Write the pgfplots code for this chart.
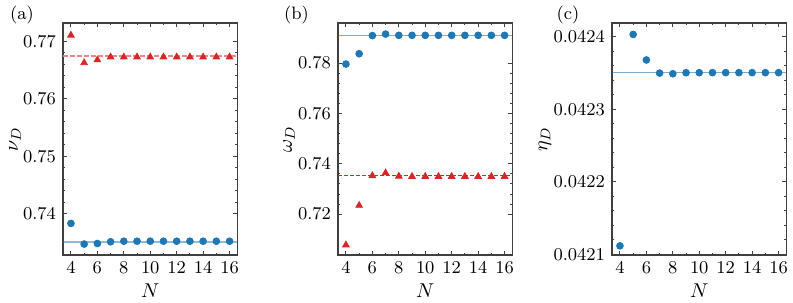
\documentclass[border=0pt]{standalone}
\usepackage{pgfplots}
\pgfplotsset{compat=1.18}
\definecolor{tblue}{RGB}{31,119,180}
\definecolor{tred}{RGB}{214,39,40}
\pgfplotsset{
  panel/.style={
    scale only axis, width=87.25pt, height=116pt,
    xmin=3.4, xmax=16.6, xtick={4,6,...,16}, minor x tick num=1, minor y tick num=4,
    tick align=inside, major tick length=2.2pt, minor tick length=1.2pt,
    axis line style={black!75, line width=0.6pt},
    every tick/.append style={black!75, line width=0.5pt},
    tick label style={font=\small}, label style={font=\normalsize},
    xlabel={$N$}, scaled y ticks=false,
    xlabel style={yshift=2pt},
    anchor=south west,
  },
  ylab/.style={every axis y label/.style={at={(axis description cs:#1,0.5)}, rotate=90, anchor=center}},
  bdot/.style={only marks, mark=*, mark size=1.7pt, color=tblue},
  rtri/.style={only marks, mark=triangle*, mark size=1.9pt, color=tred, mark options={yshift=-0.66pt}},
  bline/.style={no marks, tblue, opacity=0.6, line width=0.6pt},
  rline/.style={no marks, tred, line width=0.5pt, dash pattern=on 2pt off 1pt},
}
\begin{document}
\begin{tikzpicture}
\useasboundingbox (0,0) rectangle (396.5pt,151.5pt);
% (a)
\begin{axis}[panel, at={(31.5pt,24pt)}, ymin=0.7328, ymax=0.7732,
  ytick={0.74,0.75,0.76,0.77}, ylabel={$\nu_D$}, ylab=-0.275,
  yticklabel style={/pgf/number format/fixed, /pgf/number format/fixed zerofill, /pgf/number format/precision=2}]
\addplot[bline, line width=1pt, opacity=0.5] coordinates {(3.4,0.73512) (16.6,0.73512)};
\addplot[rline, color=tred!55, line width=1pt, dash pattern=on 2.5pt off 1pt] coordinates {(3.4,0.7675) (16.6,0.7675)};
\addplot[bdot] coordinates {(4,0.7383) (5,0.7347) (6,0.7348) (7,0.7351) (8,0.7352) (9,0.7352) (10,0.7352) (11,0.7352) (12,0.7352) (13,0.7352) (14,0.7352) (15,0.7352) (16,0.7352)};
\addplot[rtri] coordinates {(4,0.7713) (5,0.7665) (6,0.7670) (7,0.7675) (8,0.7675) (9,0.7675) (10,0.7675) (11,0.7675) (12,0.7675) (13,0.7675) (14,0.7675) (15,0.7675) (16,0.7675)};
\end{axis}
% (b)
\begin{axis}[panel, at={(169pt,24pt)}, ymin=0.7038, ymax=0.7959,
  ytick={0.72,0.74,0.76,0.78}, ylabel={$\omega_D$}, ylab=-0.281,
  yticklabel style={/pgf/number format/fixed, /pgf/number format/fixed zerofill, /pgf/number format/precision=2}]
\addplot[bline] coordinates {(3.4,0.7909) (16.6,0.7909)};
\addplot[rline] coordinates {(3.4,0.7354) (16.6,0.7354)};
\addplot[bdot] coordinates {(4,0.7796) (5,0.7837) (6,0.7909) (7,0.7915) (8,0.7910) (9,0.7910) (10,0.7910) (11,0.7910) (12,0.7910) (13,0.7910) (14,0.7910) (15,0.7910) (16,0.7910)};
\addplot[rtri] coordinates {(4,0.7083) (5,0.7240) (6,0.7358) (7,0.7369) (8,0.7356) (9,0.7355) (10,0.7355) (11,0.7355) (12,0.7355) (13,0.7355) (14,0.7355) (15,0.7355) (16,0.7355)};
\end{axis}
% (c)
\begin{axis}[panel, at={(306pt,24pt)}, ymin=0.042099, ymax=0.042419,
  ytick={0.0421,0.0422,0.0423,0.0424}, ylabel={$\eta_D$}, ylab=-0.384,
  yticklabel style={/pgf/number format/fixed, /pgf/number format/fixed zerofill, /pgf/number format/precision=4}]
\addplot[bline] coordinates {(3.4,0.0423509) (16.6,0.0423509)};
\addplot[bdot] coordinates {(4,0.0421116) (5,0.0424032) (6,0.0423680) (7,0.0423499) (8,0.0423490) (9,0.0423504) (10,0.0423505) (11,0.0423505) (12,0.0423505) (13,0.0423505) (14,0.0423505) (15,0.0423505) (16,0.0423505)};
\end{axis}
\node[font=\small] at (11pt,143.75pt) {(a)};
\node[font=\small] at (148.25pt,143.75pt) {(b)};
\node[font=\small] at (284pt,143.75pt) {(c)};
\end{tikzpicture}
\end{document}
